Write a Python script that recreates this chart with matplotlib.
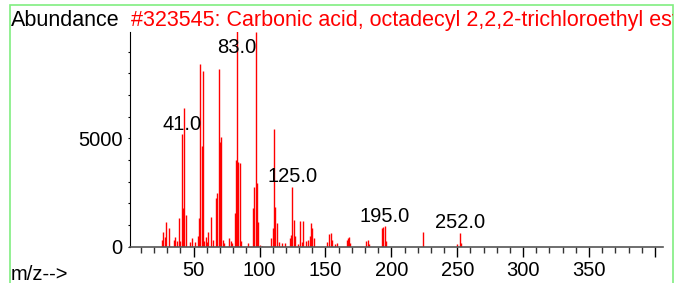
import matplotlib
matplotlib.use('Agg')

import matplotlib.pyplot as plt
from matplotlib.patches import Rectangle
from matplotlib.ticker import MultipleLocator, FixedLocator

# Widmo masowe - wartosci
mz = [26, 27, 28, 29, 31, 35, 36, 37, 39, 40, 41, 42, 43, 44, 47, 49, 51,
      53, 54, 55, 56, 57, 58, 59, 60, 61, 63, 65, 67, 68, 69, 70, 71, 72,
      73, 77, 78, 79, 81, 82, 83, 84, 85, 86, 91, 95, 96, 97, 98, 99, 100,
      102, 109, 110, 111, 112, 113, 115, 117, 119, 123, 124, 125, 126, 127,
      129, 131, 132, 133, 135, 137, 138, 139, 140, 141, 151, 153, 154, 155,
      157, 159, 166, 167, 168, 169, 181, 182, 183, 193, 194, 195, 196, 224,
      250, 252, 253]
abundance = [310, 690, 460, 1150, 840, 300, 470, 250, 1320, 250, 5190, 1780,
             6420, 1450, 230, 390, 200, 510, 1340, 8420, 4650, 8100, 250, 460,
             200, 690, 1380, 300, 2230, 2460, 8220, 4840, 5070, 300, 150, 390,
             280, 150, 1540, 4000, 10000, 3900, 3840, 250, 150, 1770, 2770,
             9900, 2920, 1150, 100, 50, 390, 850, 5410, 1840, 1080, 200, 150,
             150, 400, 540, 2760, 1250, 480, 120, 1180, 200, 1180, 250, 300,
             500, 1080, 850, 380, 230, 580, 620, 300, 120, 150, 300, 400, 430,
             150, 250, 300, 130, 850, 920, 940, 250, 700, 130, 650, 190]

# Piki z etykieta
label_mz = [41, 83, 125, 195, 252]
label_txt = ["41.0", "83.0", "125.0", "195.0", "252.0"]

title = "#323545: Carbonic acid, octadecyl 2,2,2-trichloroethyl ester"

plt.rcParams['font.family'] = ['Liberation Sans', 'DejaVu Sans']
fs = 14.5      # etykiety osi i pikow
fs_head = 15.5 # naglowek

W, H = 677, 283
fig = plt.figure(figsize=(W / 100, H / 100), dpi=100)
ax = fig.add_axes([130 / W, (H - 246.7) / H, (662.7 - 130) / W, (246.7 - 31.7) / H])

ax.vlines(mz, 0, abundance, colors='#ff0000', linewidth=1.0)
ax.set_xlim(1.7, 405.9)
ax.set_ylim(0, 9920)

# Etykiety nad pikami (przy gornej krawedzi - wewnatrz osi)
for m, t in zip(label_mz, label_txt):
    h = abundance[mz.index(m)]
    ax.annotate(t, (m, min(h, 8700)), xytext=(0, 0.5), textcoords='offset points',
                ha='center', va='bottom', fontsize=fs, color='black')

for s in ['top', 'right']:
    ax.spines[s].set_visible(False)
ax.spines['left'].set_color('black')
ax.spines['left'].set_linewidth(0.8)
ax.spines['bottom'].set_color('#555555')
ax.spines['bottom'].set_linewidth(1.2)

ax.xaxis.set_minor_locator(FixedLocator(range(10, 410, 10)))
ax.set_xticks(range(50, 401, 50))
ax.set_xticklabels([str(v) for v in range(50, 351, 50)] + [""])
ax.yaxis.set_major_locator(FixedLocator([0, 5000]))
ax.yaxis.set_minor_locator(FixedLocator(range(1000, 10000, 1000)))

ax.tick_params(axis='x', which='major', length=7, width=1, pad=3, labelsize=fs, color='black')
ax.tick_params(axis='x', which='minor', length=4, width=1, color='#333333')
ax.tick_params(axis='y', which='both', length=1.5, width=0.8, pad=4, labelsize=fs)

# Napisy poza osiami
frame = Rectangle((9.5 / W, -0.1), (672.7 - 9.5) / W, (H - 5) / H + 0.1,
                  transform=fig.transFigure, fill=False, edgecolor='#80ee80', linewidth=1.2)
fig.add_artist(frame)
fig.text(10.5 / W, (H - 26) / H, "Abundance", fontsize=fs_head, va='baseline', ha='left')
tt = fig.text(131 / W, (H - 26) / H, title, fontsize=fs_head, color='#ff0000', va='baseline', ha='left')
tt.set_clip_path(frame)
fig.text(10.5 / W, (H - 280) / H, "m/z-->", fontsize=fs, va='baseline', ha='left')

fig.savefig('out.png', dpi=100)
